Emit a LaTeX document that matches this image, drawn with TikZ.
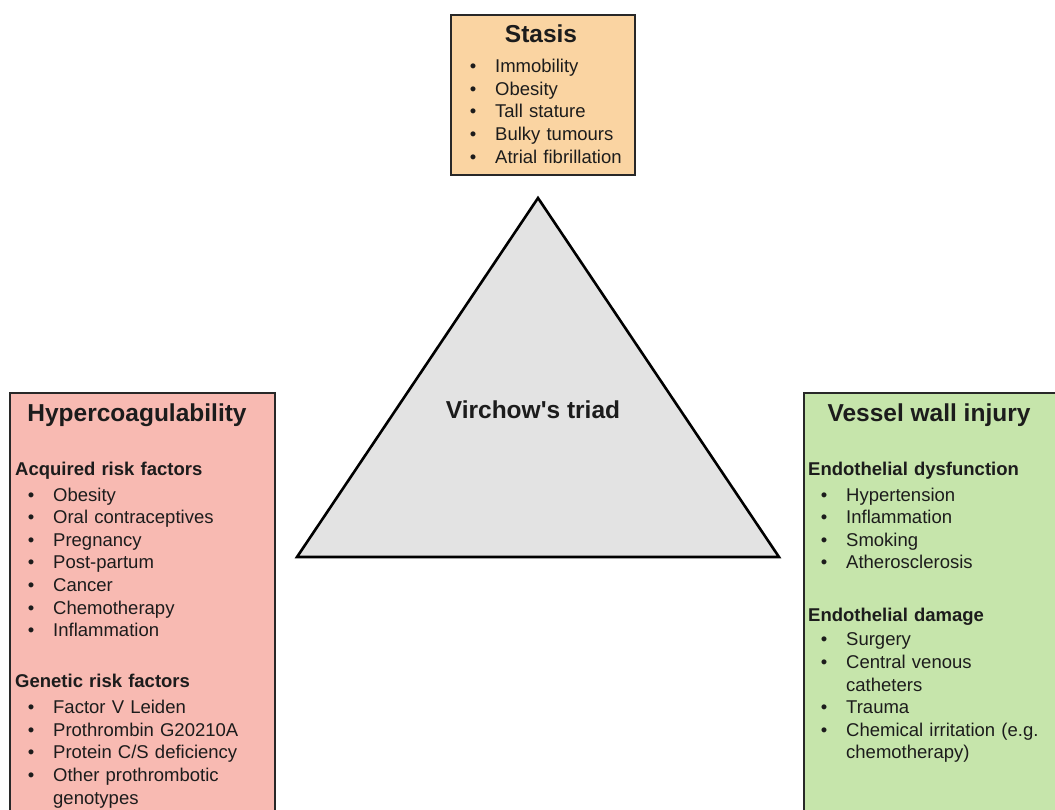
\documentclass[tikz,border=0pt]{standalone}
\usepackage{fontspec}
\setmainfont{Liberation Sans}
\usetikzlibrary{positioning}
\definecolor{stasisfill}{RGB}{250,212,162}
\definecolor{hyperfill}{RGB}{248,186,178}
\definecolor{vesselfill}{RGB}{198,229,171}
\definecolor{triadfill}{RGB}{227,227,227}
\definecolor{boxline}{RGB}{40,40,40}
\definecolor{inktext}{RGB}{28,28,28}
\newcommand{\itm}{\hspace*{12.7pt}\makebox[25.3pt][l]{\textbullet}}
\newcommand{\cont}{\hspace*{38pt}}

\begin{document}
\begin{tikzpicture}[x=1pt,y=-1pt,text=inktext,
  catbox/.style={draw=boxline,line width=1.8pt,anchor=north west,inner sep=0pt},
  cattitle/.style={anchor=base,inner sep=0pt,font=\fontsize{24.5}{28}\selectfont\bfseries},
  catlist/.style={anchor=base west,inner sep=0pt,align=left,text width=#1,
    font=\fontsize{18.5}{22.6}\selectfont}]

  \clip (0,0) rectangle (1055,810);

  % the triad itself
  \coordinate (apex) at (538,198);
  \coordinate (lcorner) at (297,557);
  \coordinate (rcorner) at (779,557);
  \draw[fill=triadfill,line width=2.6pt,line join=miter] (apex) -- (lcorner) -- (rcorner) -- cycle;
  \node[cattitle] (triad) at (533,418) {Virchow\textquotesingle s triad};

  % stasis (top)
  \node[catbox,fill=stasisfill,minimum width=184pt,minimum height=160pt] (stasis) at (450,14) {};
  \node[cattitle] (stasistitle) at (541,43) {Stasis};
  \node[catlist=170pt] (stasislist) at (457,72.7) {%
    \itm Immobility\\
    \itm Obesity\\
    \itm Tall stature\\
    \itm Bulky tumours\\
    \itm Atrial fibrillation};

  % hypercoagulability (left)
  \node[catbox,fill=hyperfill,minimum width=265pt,minimum height=450pt] (hyper) at (9,392) {};
  \node[cattitle] (hypertitle) at (137,421) {Hypercoagulability};
  \node[catlist=255pt] (hyperlist) at (15,475) {%
    \textbf{Acquired risk factors}\\[3.4pt]
    \itm Obesity\\
    \itm Oral contraceptives\\
    \itm Pregnancy\\
    \itm Post-partum\\
    \itm Cancer\\
    \itm Chemotherapy\\
    \itm Inflammation\\[28.4pt]
    \textbf{Genetic risk factors}\\[3.4pt]
    \itm Factor V Leiden\\
    \itm Prothrombin G20210A\\
    \itm Protein C/S deficiency\\
    \itm Other prothrombotic\\
    \cont genotypes};

  % vessel wall injury (right)
  \node[catbox,fill=vesselfill,minimum width=300pt,minimum height=450pt] (vessel) at (803,392) {};
  \node[cattitle] (vesseltitle) at (929,421) {Vessel wall injury};
  \node[catlist=245pt] (vessellist) at (808,475) {%
    \textbf{Endothelial dysfunction}\\[3.4pt]
    \itm Hypertension\\
    \itm Inflammation\\
    \itm Smoking\\
    \itm Atherosclerosis\\[30.4pt]
    \textbf{Endothelial damage}\\[1.4pt]
    \itm Surgery\\
    \itm Central venous\\
    \cont catheters\\
    \itm Trauma\\
    \itm Chemical irritation (e.g.\\
    \cont chemotherapy)};

\end{tikzpicture}
\end{document}
